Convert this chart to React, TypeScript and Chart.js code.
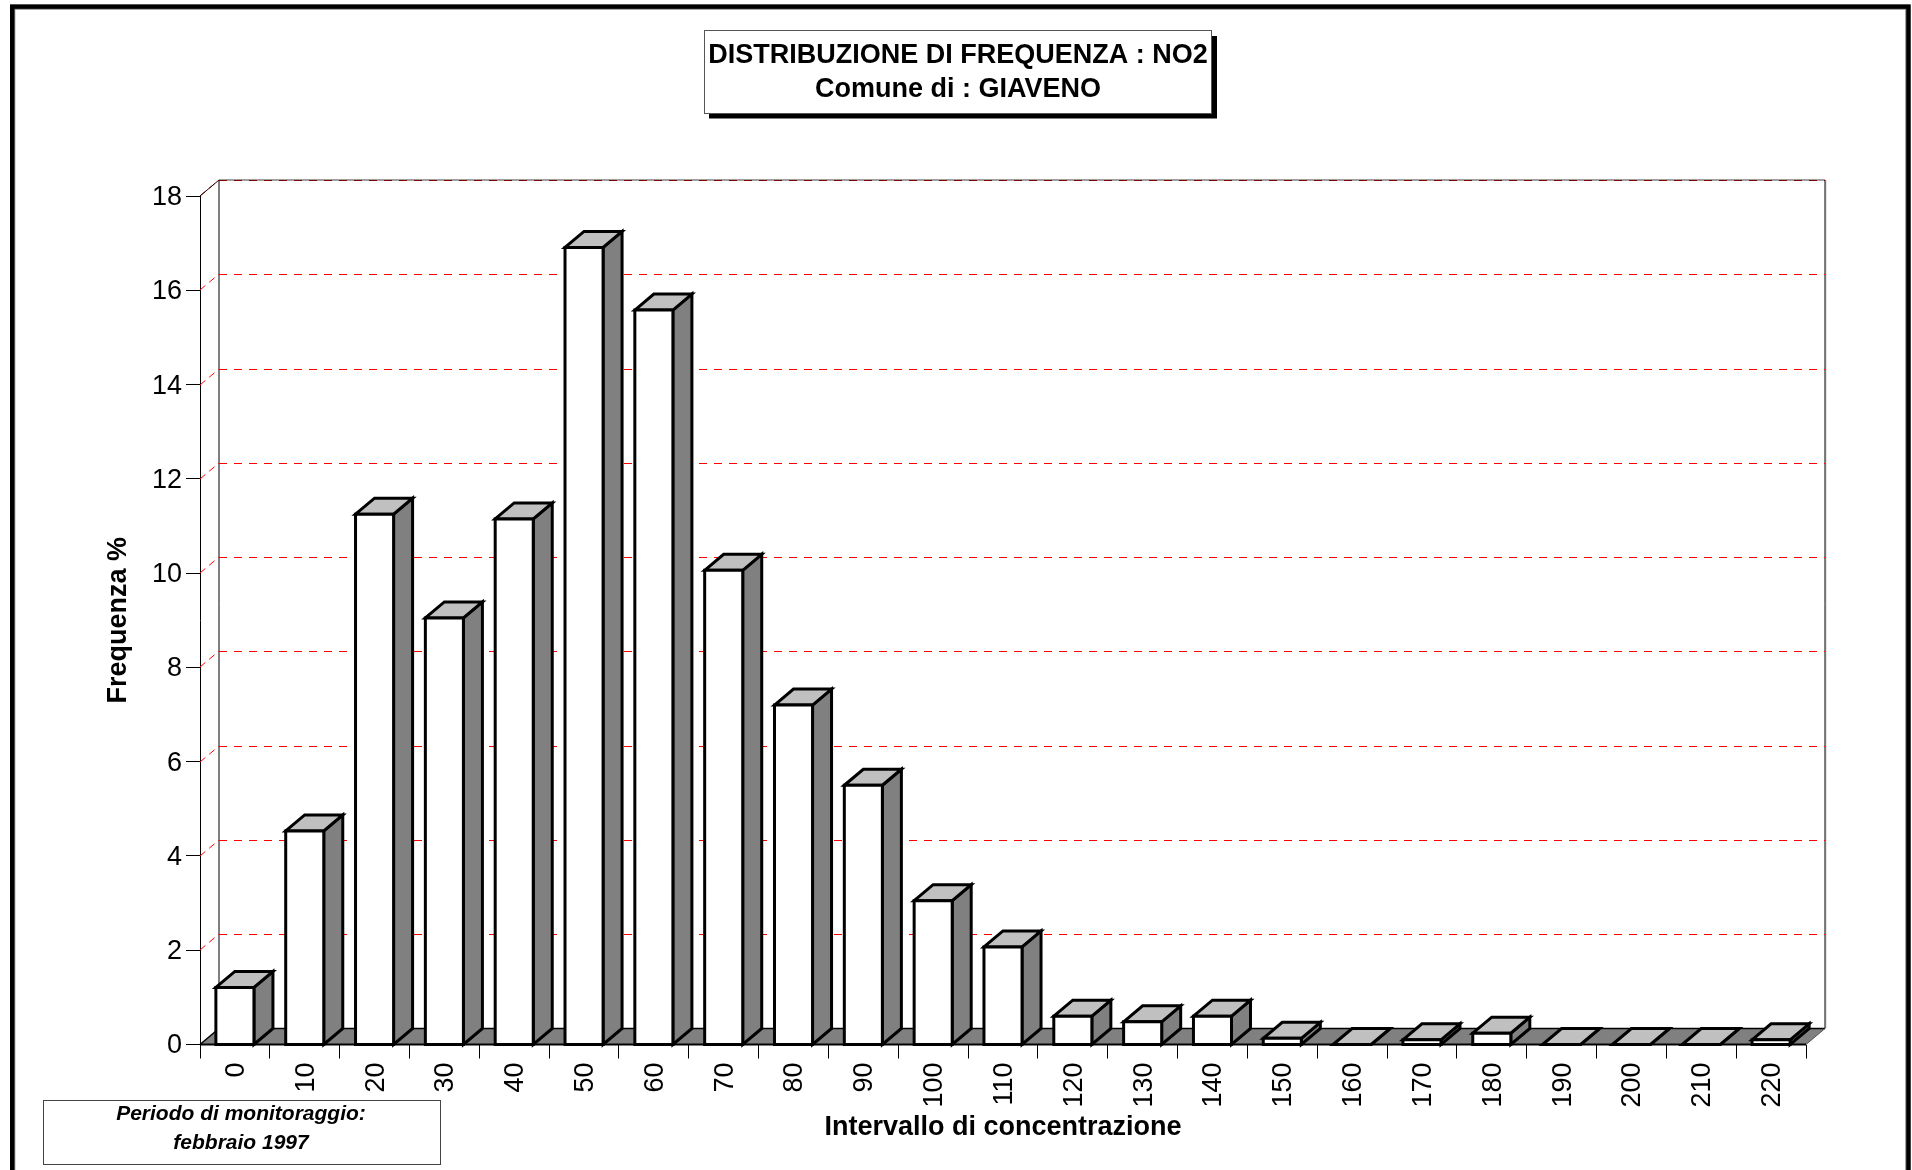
import React, { useEffect, useRef } from "react";
import { Chart, registerables } from "chart.js";

Chart.register(...registerables);

const categories = ["0","10","20","30","40","50","60","70","80","90","100","110","120","130","140","150","160","170","180","190","200","210","220"];
const frequencies = [1.21,4.53,11.25,9.05,11.15,16.91,15.58,10.06,7.2,5.5,3.05,2.07,0.6,0.48,0.6,0.13,0,0.1,0.24,0,0,0,0.1];
const titleLines = ["DISTRIBUZIONE DI FREQUENZA : NO2", "Comune di : GIAVENO"];
const noteLines = ["Periodo di monitoraggio:", "febbraio 1997"];
const xAxisTitle = "Intervallo di concentrazione";
const yAxisTitle = "Frequenza %";

const FONT = '"Liberation Sans", Arial, sans-serif';
const DX = 19;
const DY = 16;

function poly(ctx: CanvasRenderingContext2D, pts: number[][], fill: string | null, stroke: string | null, lw = 3) {
  ctx.beginPath();
  pts.forEach((p, i) => (i ? ctx.lineTo(p[0], p[1]) : ctx.moveTo(p[0], p[1])));
  ctx.closePath();
  if (fill) { ctx.fillStyle = fill; ctx.fill(); }
  if (stroke) { ctx.strokeStyle = stroke; ctx.lineWidth = lw; ctx.lineJoin = "miter"; ctx.stroke(); }
}

function seg(ctx: CanvasRenderingContext2D, x1: number, y1: number, x2: number, y2: number, color: string, lw: number, dash: number[] = []) {
  ctx.save();
  ctx.beginPath();
  ctx.setLineDash(dash);
  ctx.moveTo(x1, y1);
  ctx.lineTo(x2, y2);
  ctx.strokeStyle = color;
  ctx.lineWidth = lw;
  ctx.stroke();
  ctx.restore();
}

const decor = {
  id: "decor",
  beforeDraw(chart: any) {
    const { ctx, width, height, scales } = chart;
    // nudge tick labels onto the reference's optical centre
    scales.y.getLabelItems().forEach((it: any) => { if (!it._moved) { it.textOffset += 1.5; it._moved = true; } });
    scales.x.getLabelItems().forEach((it: any) => { if (!it._moved) { it.textOffset += 1.5; it._moved = true; } });
    ctx.save();
    ctx.fillStyle = "#fff";
    ctx.fillRect(0, 0, width, height);
    // outer frame
    ctx.strokeStyle = "#808080";
    ctx.lineWidth = 5;
    ctx.strokeRect(12.8, 7.2, 1895, 1200);
    ctx.strokeStyle = "#000";
    ctx.lineWidth = 4.4;
    ctx.strokeRect(12.2, 6.6, 1896.3, 1200);
    // title box
    ctx.fillStyle = "#000";
    ctx.fillRect(709, 36, 508, 82.5);
    ctx.fillStyle = "#fff";
    ctx.fillRect(704, 30, 507, 83.5);
    ctx.strokeStyle = "#555";
    ctx.lineWidth = 1;
    ctx.strokeRect(704.5, 30.5, 507, 83);
    ctx.fillStyle = "#000";
    ctx.font = `bold 27px ${FONT}`;
    ctx.textAlign = "center";
    ctx.textBaseline = "middle";
    ctx.fillText(titleLines[0], 958, 56);
    ctx.fillText(titleLines[1], 958, 90);
    // note box
    ctx.fillStyle = "#fff";
    ctx.fillRect(43.5, 1100, 397, 64);
    ctx.strokeStyle = "#444";
    ctx.lineWidth = 1;
    ctx.strokeRect(43.5, 1100.5, 397, 64);
    ctx.fillStyle = "#000";
    ctx.font = `italic bold 21px ${FONT}`;
    ctx.fillText(noteLines[0], 241, 1114.5);
    ctx.fillText(noteLines[1], 241, 1143.5);
    ctx.restore();
  },
  beforeDatasetsDraw(chart: any) {
    const { ctx, chartArea: a, scales } = chart;
    const y = scales.y;
    ctx.save();
    // floor
    poly(ctx, [[a.left, a.bottom], [a.left + DX, a.bottom - DY], [a.right + DX, a.bottom - DY], [a.right, a.bottom]], "#808080", null);
    seg(ctx, a.left, a.bottom, a.left + DX, a.bottom - DY, "#000", 1.5);
    seg(ctx, a.left + DX, a.bottom - DY, a.right + DX, a.bottom - DY, "#000", 1.5);
    seg(ctx, a.right, a.bottom, a.right + DX, a.bottom - DY, "#555", 1);
    // back wall edges
    seg(ctx, a.left + DX, a.top - DY, a.left + DX, a.bottom - DY, "#000", 1);
    seg(ctx, a.right + DX + 1, a.top - DY, a.right + DX + 1, a.bottom - DY, "#ccc", 1);
    seg(ctx, a.right + DX, a.top - DY, a.right + DX, a.bottom - DY, "#000", 1);
    seg(ctx, a.left + DX, a.top - DY, a.right + DX, a.top - DY, "#808080", 1.5);
    // dashed grid on side and back walls
    y.ticks.forEach((t: any) => {
      if (t.value === 0) return;
      const py = Math.round(y.getPixelForValue(t.value));
      const color = t.value === 18 ? "#800000" : "#ff0000";
      seg(ctx, a.left, py, a.left + DX, py - DY, color, 1, [7, 5]);
      seg(ctx, a.left + DX, py - DY + 0.5, a.right + DX, py - DY + 0.5, color, 1, [8, 7]);
    });
    seg(ctx, a.left, a.top, a.left + DX, a.top - DY, "#300", 1);
    // bar sides and tops
    chart.getDatasetMeta(0).data.forEach((bar: any) => {
      const l = bar.x - bar.width / 2;
      const r = bar.x + bar.width / 2;
      const t = bar.y;
      const b = a.bottom;
      poly(ctx, [[r, t], [r + DX, t - DY], [r + DX, b - DY], [r, b]], "#808080", "#000");
      poly(ctx, [[l, t], [l + DX, t - DY], [r + DX, t - DY], [r, t]], "#c0c0c0", "#000");
    });
    ctx.restore();
  },
  afterDatasetsDraw(chart: any) {
    const { ctx, chartArea: a } = chart;
    ctx.save();
    seg(ctx, a.left, a.bottom, a.right, a.bottom, "#000", 2);
    chart.getDatasetMeta(0).data.forEach((bar: any) => {
      const l = bar.x - bar.width / 2;
      const r = bar.x + bar.width / 2;
      poly(ctx, [[l, bar.y], [r, bar.y], [r, a.bottom], [l, a.bottom]], null, "#000");
    });
    ctx.restore();
  },
};

export default function App() {
  const ref = useRef<HTMLCanvasElement>(null);
  useEffect(() => {
    const chart = new Chart(ref.current as HTMLCanvasElement, {
      type: "bar",
      data: {
        labels: categories,
        datasets: [{
          data: frequencies,
          backgroundColor: "#ffffff",
          borderWidth: 0,
          barPercentage: 0.545,
          categoryPercentage: 1,
        }],
      },
      plugins: [decor],
      options: {
        responsive: false,
        animation: false,
        devicePixelRatio: 1,
        layout: { padding: { top: 196, right: 106, bottom: 0, left: 0 } },
        plugins: { legend: { display: false }, tooltip: { enabled: false }, title: { display: false } },
        scales: {
          x: {
            offset: true,
            afterFit: (s: any) => { s.height = 125.5; },
            grid: { drawOnChartArea: false, drawTicks: true, tickLength: 14, color: "#000", offset: true },
            border: { display: false },
            ticks: { autoSkip: false, minRotation: 90, maxRotation: 90, padding: 4, color: "#000", font: { family: FONT, size: 27 } },
            title: { display: true, text: xAxisTitle, color: "#000", font: { family: FONT, size: 27, weight: "bold" }, padding: { top: 0, bottom: 26.5 } },
          },
          y: {
            min: 0,
            max: 18,
            afterFit: (s: any) => { s.width = 200; },
            grid: { drawOnChartArea: false, drawTicks: true, tickLength: 14, color: "#000" },
            border: { display: true, color: "#000", width: 1 },
            ticks: { stepSize: 2, padding: 4, color: "#000", font: { family: FONT, size: 27 } },
            title: { display: true, text: yAxisTitle, color: "#000", font: { family: FONT, size: 27, weight: "bold" }, padding: { top: 102, bottom: 0 } },
          },
        },
      },
    } as any);
    return () => chart.destroy();
  }, []);
  return (
    <canvas
      ref={ref}
      width={1912}
      height={1170}
      style={{ position: "absolute", left: 0, top: 0, width: 1912, height: 1170, display: "block" }}
    />
  );
}
